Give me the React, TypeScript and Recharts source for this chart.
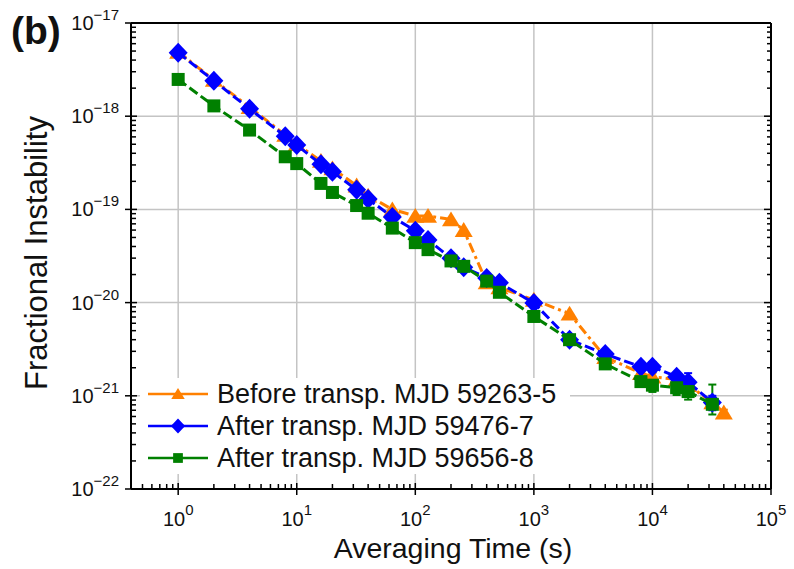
import React from 'react';
import { ScatterChart, Scatter, XAxis, YAxis, ReferenceLine, ErrorBar } from 'recharts';

// averaging times (s) and fractional instability for each run
const BEFORE_TAU = [1, 2, 4, 8, 10, 16, 20, 32, 40, 64, 100, 128, 200, 256, 400, 512, 1000, 2000, 4000, 8000, 10000, 16000, 20000, 32000, 40000];
const BEFORE_VAL = [4.9e-18, 2.45e-18, 1.25e-18, 6.3e-19, 5.0e-19, 3.3e-19, 2.75e-19, 1.8e-19, 1.4e-19, 1.0e-19, 8.5e-20, 8.5e-20, 7.8e-20, 6.0e-20, 1.65e-20, 1.45e-20, 1.07e-20, 7.6e-21, 2.6e-21, 1.75e-21, 1.6e-21, 1.5e-21, 1.3e-21, 8.5e-22, 6.6e-22];
const BEFORE_ERR = [null, null, null, null, null, null, null, null, null, null, null, null, null, null, null, null, null, null, null, 1.2e-22, 1.5e-22, 1.5e-22, 1.5e-22, 1.0e-22, 5e-23];

const AFTER1_TAU = [1, 2, 4, 8, 10, 16, 20, 32, 40, 64, 100, 128, 200, 256, 400, 512, 1000, 2000, 4000, 8000, 10000, 16000, 20000, 32000];
const AFTER1_VAL = [4.8e-18, 2.4e-18, 1.2e-18, 6.1e-19, 4.9e-19, 3.05e-19, 2.54e-19, 1.62e-19, 1.29e-19, 8.3e-20, 5.9e-20, 4.7e-20, 3.0e-20, 2.4e-20, 1.84e-20, 1.63e-20, 9.9e-21, 4.0e-21, 2.8e-21, 2.05e-21, 2.05e-21, 1.6e-21, 1.4e-21, 8.5e-22];
const AFTER1_ERR = [null, null, null, null, null, null, null, null, null, null, null, null, null, null, null, null, null, null, null, 2.0e-22, 2.5e-22, 1.5e-22, 3.5e-22, 1.5e-22];

const AFTER2_TAU = [1, 2, 4, 8, 10, 16, 20, 32, 40, 64, 100, 128, 200, 256, 400, 512, 1000, 2000, 4000, 8000, 10000, 16000, 20000, 32000];
const AFTER2_VAL = [2.48e-18, 1.29e-18, 7.1e-19, 3.67e-19, 3.1e-19, 1.9e-19, 1.52e-19, 1.1e-19, 9.1e-20, 6.3e-20, 4.4e-20, 3.7e-20, 2.8e-20, 2.45e-20, 1.7e-20, 1.29e-20, 7.1e-21, 4.0e-21, 2.2e-21, 1.42e-21, 1.3e-21, 1.22e-21, 1.11e-21, 8.1e-22];
const AFTER2_ERR: (number | number[] | null)[] = [null, null, null, null, null, null, null, null, null, null, null, null, null, null, null, null, null, null, null, 1.5e-22, 2.0e-22, 2.0e-22, 2.0e-22, [1.8e-22, 5.1e-22]];

const SERIES_NAMES = ['Before transp. MJD 59263-5', 'After transp. MJD 59476-7', 'After transp. MJD 59656-8'];
const COLORS = ['#ff8000', '#0000ff', '#008000'];

const X_MAJOR = [1, 10, 100, 1000, 10000, 100000];
const Y_MAJOR = [1e-22, 1e-21, 1e-20, 1e-19, 1e-18, 1e-17];
const X_DECADES = [0.1, 1, 10, 100, 1000, 10000];
const Y_DECADES = [1e-22, 1e-21, 1e-20, 1e-19, 1e-18];
const MINOR_STEPS = [2, 3, 4, 5, 6, 7, 8, 9];

const X_DOMAIN = [0.4, 100000];
const Y_DOMAIN = [1e-22, 1e-17];

const xMinor = X_DECADES.flatMap((d) => MINOR_STEPS.map((m) => d * m)).filter((v) => v >= X_DOMAIN[0] && v <= X_DOMAIN[1]);
const yMinor = Y_DECADES.flatMap((d) => MINOR_STEPS.map((m) => d * m));
const X_TICKS = [...xMinor, ...X_MAJOR].sort((a, b) => a - b);
const Y_TICKS = [...yMinor, ...Y_MAJOR].sort((a, b) => a - b);

const FONT = '"Liberation Sans", Arial, Helvetica, sans-serif';

function toPoints(tau: number[], val: number[], err: any[]) {
  return tau.map((t, i) => ({ x: t, y: val[i], err: err[i] ?? undefined }));
}

const beforeData = toPoints(BEFORE_TAU, BEFORE_VAL, BEFORE_ERR);
const after1Data = toPoints(AFTER1_TAU, AFTER1_VAL, AFTER1_ERR);
const after2Data = toPoints(AFTER2_TAU, AFTER2_VAL, AFTER2_ERR);

function isMajor(v: number) {
  const l = Math.log10(v);
  return Math.abs(l - Math.round(l)) < 1e-6;
}
// exponent text with a real minus sign
function expOf(v: number) {
  const e = Math.round(Math.log10(v));
  return e < 0 ? '\u2212' + Math.abs(e) : String(e);
}

function BottomTick(props: any) {
  const { x, y, payload } = props;
  const major = isMajor(payload.value);
  return (
    <g>
      <line x1={x} x2={x} y1={major ? y + 6 : y} y2={y - (major ? 6 : 5)} stroke="#000" strokeWidth={1.5} />
      {major && (
        <text x={x} y={y + 37} textAnchor="middle" fontSize={20} fontFamily={FONT} fill="#111">
          10<tspan dy={-11} fontSize={15}>{expOf(payload.value)}</tspan>
        </text>
      )}
    </g>
  );
}

function TopTick(props: any) {
  const { x, y, payload } = props;
  const major = isMajor(payload.value);
  return <line x1={x} x2={x} y1={y} y2={y + (major ? 7 : 4)} stroke="#000" strokeWidth={1.5} />;
}

function LeftTick(props: any) {
  const { x, y, payload } = props;
  const major = isMajor(payload.value);
  return (
    <g>
      <line x1={major ? x - 6 : x} x2={x + (major ? 6 : 5)} y1={y} y2={y} stroke="#000" strokeWidth={1.5} />
      {major && (
        <text x={x - 12} y={y + 7} textAnchor="end" fontSize={20} fontFamily={FONT} fill="#111">
          10<tspan dy={-10} fontSize={15}>{expOf(payload.value)}</tspan>
        </text>
      )}
    </g>
  );
}

function RightTick(props: any) {
  const { x, y, payload } = props;
  const major = isMajor(payload.value);
  return <line x1={x} x2={x - (major ? 7 : 4)} y1={y} y2={y} stroke="#000" strokeWidth={1.5} />;
}

function Triangle({ cx, cy, fill, s = 1 }: any) {
  if (cx == null || cy == null) return null;
  const w = 9 * s;
  const h = 8 * s;
  return <polygon points={`${cx},${cy - h} ${cx + w},${cy + h * 0.85} ${cx - w},${cy + h * 0.85}`} fill={fill} />;
}
function Diamond({ cx, cy, fill, s = 1 }: any) {
  if (cx == null || cy == null) return null;
  const r = 10 * s;
  const rx = 9.5 * s;
  return <polygon points={`${cx},${cy - r} ${cx + rx},${cy} ${cx},${cy + r} ${cx - rx},${cy}`} fill={fill} />;
}
function Square({ cx, cy, fill, s = 1 }: any) {
  if (cx == null || cy == null) return null;
  const h = 6.5 * s;
  return <rect x={cx - h} y={cy - h} width={h * 2} height={h * 2} fill={fill} />;
}

const SHAPES = [Triangle, Diamond, Square];

function LegendBox() {
  return (
    <div
      style={{
        position: 'absolute',
        left: 140,
        top: 378,
        width: 430,
        background: '#fff',
        fontFamily: FONT,
        fontSize: 27,
        color: '#111',
      }}
    >
      {SERIES_NAMES.map((name, i) => {
        const Shape = SHAPES[i];
        return (
          <div key={name} style={{ display: 'flex', alignItems: 'center', height: 32 }}>
            <svg width={72} height={32} style={{ flex: 'none' }}>
              <line x1={8} x2={68} y1={16} y2={16} stroke={COLORS[i]} strokeWidth={2.5} />
              <Shape cx={38} cy={16} fill={COLORS[i]} s={0.75} />
            </svg>
            <span style={{ marginLeft: 5, whiteSpace: 'nowrap', lineHeight: '32px' }}>{name}</span>
          </div>
        );
      })}
    </div>
  );
}

export default function App() {
  const seriesData = [beforeData, after1Data, after2Data];
  const dashes = ['10 4 3 4', '10 4', '10 4'];
  return (
    <div style={{ position: 'absolute', left: 0, top: 0, width: 794, height: 569, background: '#fff' }}>
      <ScatterChart width={794} height={569} margin={{ top: 22, right: 22, bottom: 30, left: 11 }}>
        <XAxis
          xAxisId="bottom"
          orientation="bottom"
          type="number"
          dataKey="x"
          scale="log"
          domain={X_DOMAIN}
          allowDataOverflow
          ticks={X_TICKS}
          interval={0}
          tickSize={0}
          tickMargin={0}
          tickLine={false}
          tick={<BottomTick />}
          axisLine={{ stroke: '#000', strokeWidth: 2 }}
          height={50}
        />
        <XAxis
          xAxisId="top"
          orientation="top"
          type="number"
          scale="log"
          domain={X_DOMAIN}
          allowDataOverflow
          ticks={X_TICKS}
          interval={0}
          tickSize={0}
          tickMargin={0}
          tickLine={false}
          tick={<TopTick />}
          axisLine={{ stroke: '#000', strokeWidth: 2 }}
          height={1}
        />
        <YAxis
          yAxisId="left"
          orientation="left"
          type="number"
          dataKey="y"
          scale="log"
          domain={Y_DOMAIN}
          allowDataOverflow
          ticks={Y_TICKS}
          interval={0}
          tickSize={0}
          tickMargin={0}
          tickLine={false}
          tick={<LeftTick />}
          axisLine={{ stroke: '#000', strokeWidth: 2 }}
          width={120}
        />
        <YAxis
          yAxisId="right"
          orientation="right"
          type="number"
          scale="log"
          domain={Y_DOMAIN}
          allowDataOverflow
          ticks={Y_TICKS}
          interval={0}
          tickSize={0}
          tickMargin={0}
          tickLine={false}
          tick={<RightTick />}
          axisLine={{ stroke: '#000', strokeWidth: 2 }}
          width={1}
        />
        {X_MAJOR.slice(0, -1).map((v) => (
          <ReferenceLine key={'vx' + v} x={v} xAxisId="bottom" yAxisId="left" stroke="#c4c4c4" strokeWidth={1.5} />
        ))}
        {Y_MAJOR.slice(1, -1).map((v) => (
          <ReferenceLine key={'hy' + v} y={v} xAxisId="bottom" yAxisId="left" stroke="#c4c4c4" strokeWidth={1.5} />
        ))}
        {seriesData.map((data, i) => {
          const Shape = SHAPES[i];
          return (
            <Scatter
              key={SERIES_NAMES[i]}
              name={SERIES_NAMES[i]}
              data={data}
              xAxisId="bottom"
              yAxisId="left"
              fill={COLORS[i]}
              line={{ stroke: COLORS[i], strokeWidth: 3, strokeDasharray: dashes[i] }}
              lineType="joint"
              shape={(p: any) => <Shape cx={p.cx} cy={p.cy} fill={COLORS[i]} />}
              isAnimationActive={false}
            >
              <ErrorBar dataKey="err" direction="y" width={4} stroke={COLORS[i]} strokeWidth={2} />
            </Scatter>
          );
        })}
      </ScatterChart>
      <LegendBox />
      <div style={{ position: 'absolute', left: 11, top: 9, fontFamily: FONT, fontSize: 39, fontWeight: 'bold', lineHeight: '44px', color: '#111' }}>
        (b)
      </div>
      <div
        style={{
          position: 'absolute',
          left: 37,
          top: 253,
          transform: 'translate(-50%, -50%) rotate(-90deg)',
          whiteSpace: 'nowrap',
          fontFamily: FONT,
          fontSize: 31,
          color: '#111',
        }}
      >
        Fractional Instability
      </div>
      <div
        style={{
          position: 'absolute',
          left: 453,
          top: 548,
          transform: 'translate(-50%, -50%)',
          whiteSpace: 'nowrap',
          fontFamily: FONT,
          fontSize: 28.5,
          color: '#111',
        }}
      >
        Averaging Time (s)
      </div>
    </div>
  );
}
